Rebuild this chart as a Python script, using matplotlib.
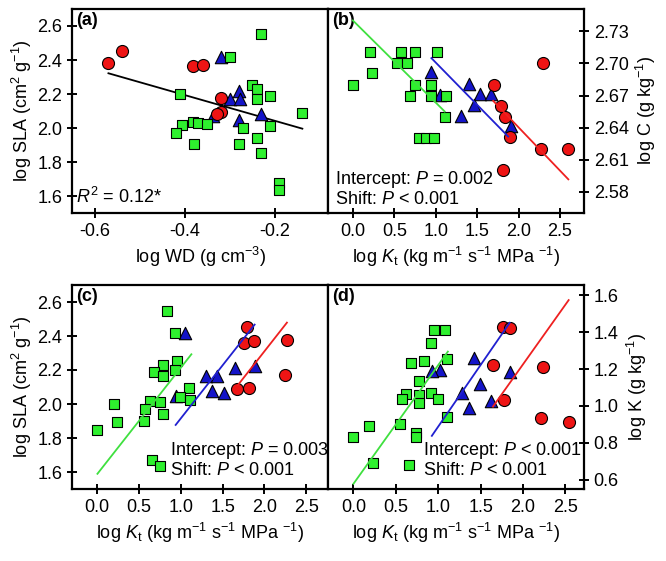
import numpy as np
import matplotlib
matplotlib.use('Agg')
from matplotlib import pyplot as plt
from matplotlib.ticker import FormatStrFormatter

plt.rcParams['font.family'] = ['Liberation Sans', 'DejaVu Sans']
plt.rcParams['mathtext.fontset'] = 'custom'
plt.rcParams['mathtext.rm'] = 'Liberation Sans'
plt.rcParams['mathtext.it'] = 'Liberation Sans:italic'
plt.rcParams['mathtext.bf'] = 'Liberation Sans:bold'

# ---- panel (a): log SLA vs log WD
a_green_x = [-0.231, -0.299, -0.410, -0.252, -0.239, -0.239, -0.211, -0.139, -0.381, -0.370, -0.350,
             -0.407, -0.420, -0.270, -0.211, -0.380, -0.280, -0.239, -0.230, -0.191, -0.191]
a_green_y = [2.555, 2.420, 2.202, 2.251, 2.231, 2.173, 2.188, 2.090, 2.037, 2.031, 2.022,
             2.016, 1.973, 2.002, 2.012, 1.904, 1.904, 1.943, 1.851, 1.675, 1.633]
a_blue_x = [-0.320, -0.279, -0.299, -0.278, -0.337, -0.280, -0.230]
a_blue_y = [2.420, 2.218, 2.169, 2.169, 2.071, 2.047, 2.080]
a_red_x = [-0.570, -0.539, -0.381, -0.359, -0.320, -0.319, -0.328]
a_red_y = [2.384, 2.453, 2.365, 2.371, 2.175, 2.096, 2.084]
a_fit = (-0.756, 1.891, -0.570, -0.139)  # slope, intercept, x from, x to

# ---- panel (b): log C vs log Kt
b_green_x = [0.202, 0.585, 0.754, 1.016, 0.536, 0.653, 0.234, 0.0, 0.746, 0.940, 0.694,
             0.940, 1.129, 1.109, 0.794, 0.887, 0.976]
b_green_y = [2.7106, 2.7106, 2.7106, 2.7106, 2.7003, 2.7003, 2.6909, 2.680, 2.680, 2.680, 2.670,
             2.670, 2.670, 2.6503, 2.630, 2.630, 2.630]
b_blue_x = [0.948, 1.399, 1.532, 1.673, 1.460, 1.310, 1.907, 1.048]
b_blue_y = [2.6916, 2.6809, 2.6716, 2.6716, 2.6613, 2.6509, 2.641, 2.6706]
b_red_x = [1.702, 1.794, 1.835, 1.895, 2.290, 2.270, 2.601, 1.815]
b_red_y = [2.680, 2.6603, 2.6503, 2.6309, 2.7009, 2.620, 2.620, 2.6003]
b_fits = [(-0.0769, 2.7403, 0.0, 1.109),
          (-0.0792, 2.7801, 0.948, 1.875),
          (-0.0810, 2.8022, 1.694, 2.601)]

# ---- panel (c): log SLA vs log Kt
c_green_x = [0.836, 0.935, 0.959, 0.935, 0.788, 0.681, 0.788, 1.099, 0.995, 1.115, 0.629,
             0.748, 0.577, 0.788, 0.199, 0.239, 0.561, 0.004, 0.657, 0.756]
c_green_y = [2.547, 2.418, 2.254, 2.200, 2.229, 2.190, 2.166, 2.092, 2.039, 2.024, 2.020,
             2.010, 1.969, 1.940, 2.000, 1.897, 1.901, 1.848, 1.672, 1.633]
c_blue_x = [1.047, 1.298, 1.437, 1.652, 1.891, 1.377, 1.517, 0.939]
c_blue_y = [2.418, 2.164, 2.164, 2.213, 2.223, 2.077, 2.063, 2.047]
c_red_x = [1.795, 1.756, 1.875, 2.269, 1.672, 1.811, 2.249]
c_red_y = [2.450, 2.356, 2.370, 2.379, 2.088, 2.092, 2.170]
c_fits = [(0.626, 1.587, 0.004, 1.127),
          (0.625, 1.290, 0.939, 1.883),
          (0.627, 1.056, 1.684, 2.269)]

# ---- panel (d): log K vs log Kt
d_green_x = [0.945, 1.075, 0.917, 0.677, 0.827, 1.102, 0.776, 0.622, 0.571, 0.776, 0.776,
             0.917, 0.992, 1.102, 0.551, 0.189, 0.0, 0.740, 0.740, 0.228, 0.650]
d_green_y = [1.411, 1.411, 1.342, 1.231, 1.243, 1.252, 1.135, 1.063, 1.038, 1.059, 1.018,
             1.072, 1.036, 0.942, 0.901, 0.892, 0.829, 0.852, 0.829, 0.690, 0.681]
d_blue_x = [1.417, 1.024, 0.925, 1.488, 1.280, 1.622, 1.366, 1.850]
d_blue_y = [1.258, 1.195, 1.189, 1.117, 1.072, 1.027, 0.991, 1.186]
d_red_x = [1.764, 1.850, 1.642, 1.780, 2.236, 2.217, 2.539]
d_red_y = [1.425, 1.423, 1.222, 1.032, 1.213, 0.933, 0.912]
d_fits = [(0.643, 0.578, 0.0, 1.114),
          (0.667, 0.221, 0.925, 1.843),
          (0.646, -0.067, 1.646, 2.539)]

sla_ticks = [1.6, 1.8, 2.0, 2.2, 2.4, 2.6]
c_ticks = [2.58, 2.61, 2.64, 2.67, 2.70, 2.73]
k_ticks = [0.6, 0.8, 1.0, 1.2, 1.4, 1.6]
kt_ticks = [0.0, 0.5, 1.0, 1.5, 2.0, 2.5]
wd_ticks = [-0.6, -0.4, -0.2]

GREEN = '#2ef02e'
BLUE = '#1414c8'
RED = '#ee1414'
LGREEN = '#3fe03f'
LBLUE = '#2020d0'
LRED = '#ee2020'
FS = 13

kt_label = 'log $K_{\\rm t}$ (kg m$^{-1}$ s$^{-1}$ MPa $^{-1}$)'
sla_label = 'log SLA (cm$^{2}$ g$^{-1}$)'


def scatter_groups(ax, gx, gy, bx, by, rx, ry):
    ax.scatter(bx, by, marker='^', s=80, c=BLUE, edgecolors='black', linewidths=0.8, zorder=3)
    ax.scatter(rx, ry, marker='o', s=75, c=RED, edgecolors='black', linewidths=0.8, zorder=3)
    ax.scatter(gx, gy, marker='s', s=60, c=GREEN, edgecolors='black', linewidths=0.8, zorder=3)


def draw_fits(ax, fits):
    for (m, b, x0, x1), col in zip(fits, [LGREEN, LBLUE, LRED]):
        xs = np.array([x0, x1])
        ax.plot(xs, m * xs + b, color=col, lw=1.3, zorder=4)


def style(ax):
    for sp in ax.spines.values():
        sp.set_linewidth(1.6)
    ax.tick_params(direction='inout', length=7, width=1.4, labelsize=FS)


def notes(ax, x, y1, y2, t1, t2):
    ax.text(x, y1, t1, transform=ax.transAxes, fontsize=FS, va='center')
    ax.text(x, y2, t2, transform=ax.transAxes, fontsize=FS, va='center')


fig = plt.figure(figsize=(6.66, 5.61), dpi=100)
W, H = 666.0, 561.0
ax_a = fig.add_axes([72 / W, 1 - 213 / H, 256 / W, 204 / H])
ax_b = fig.add_axes([328 / W, 1 - 213 / H, 256 / W, 204 / H])
ax_c = fig.add_axes([72 / W, 1 - 489 / H, 256 / W, 204 / H])
ax_d = fig.add_axes([328 / W, 1 - 489 / H, 256 / W, 204 / H])

# (a)
scatter_groups(ax_a, a_green_x, a_green_y, a_blue_x, a_blue_y, a_red_x, a_red_y)
m, b, x0, x1 = a_fit
xs = np.array([x0, x1])
ax_a.plot(xs, m * xs + b, color='black', lw=1.3, zorder=2)
ax_a.set_xlim(-0.651, -0.082)
ax_a.set_ylim(1.5, 2.7)
ax_a.set_xticks(wd_ticks)
ax_a.set_yticks(sla_ticks)
ax_a.xaxis.set_major_formatter(FormatStrFormatter('%.1f'))
ax_a.yaxis.set_major_formatter(FormatStrFormatter('%.1f'))
ax_a.set_xlabel('log WD (g cm$^{-3}$)', fontsize=FS, labelpad=4)
ax_a.set_ylabel(sla_label, fontsize=FS, labelpad=2)
ax_a.text(0.015, 0.985, '(a)', transform=ax_a.transAxes, fontsize=FS, fontweight='bold', va='top')
ax_a.text(0.015, 0.03, '$R^{2}$ = 0.12*', transform=ax_a.transAxes, fontsize=FS, va='bottom')
style(ax_a)

# (b)
scatter_groups(ax_b, b_green_x, b_green_y, b_blue_x, b_blue_y, b_red_x, b_red_y)
draw_fits(ax_b, b_fits)
ax_b.set_xlim(-0.3, 2.79)
ax_b.set_ylim(2.56, 2.751)
ax_b.set_xticks(kt_ticks)
ax_b.set_yticks(c_ticks)
ax_b.xaxis.set_major_formatter(FormatStrFormatter('%.1f'))
ax_b.yaxis.set_major_formatter(FormatStrFormatter('%.2f'))
ax_b.yaxis.tick_right()
ax_b.yaxis.set_label_position('right')
ax_b.set_xlabel(kt_label, fontsize=FS, labelpad=4)
ax_b.set_ylabel('log C (g kg$^{-1}$)', fontsize=FS, labelpad=4)
ax_b.text(0.015, 0.985, '(b)', transform=ax_b.transAxes, fontsize=FS, fontweight='bold', va='top')
notes(ax_b, 0.027, 0.165, 0.068, 'Intercept: $P$ = 0.002', 'Shift: $P$ < 0.001')
style(ax_b)

# (c)
scatter_groups(ax_c, c_green_x, c_green_y, c_blue_x, c_blue_y, c_red_x, c_red_y)
draw_fits(ax_c, c_fits)
ax_c.set_xlim(-0.3, 2.76)
ax_c.set_ylim(1.5, 2.7)
ax_c.set_xticks(kt_ticks)
ax_c.set_yticks(sla_ticks)
ax_c.xaxis.set_major_formatter(FormatStrFormatter('%.1f'))
ax_c.yaxis.set_major_formatter(FormatStrFormatter('%.1f'))
ax_c.set_xlabel(kt_label, fontsize=FS, labelpad=4)
ax_c.set_ylabel(sla_label, fontsize=FS, labelpad=2)
ax_c.text(0.015, 0.985, '(c)', transform=ax_c.transAxes, fontsize=FS, fontweight='bold', va='top')
notes(ax_c, 0.383, 0.19, 0.093, 'Intercept: $P$ = 0.003', 'Shift: $P$ < 0.001')
style(ax_c)

# (d)
scatter_groups(ax_d, d_green_x, d_green_y, d_blue_x, d_blue_y, d_red_x, d_red_y)
draw_fits(ax_d, d_fits)
ax_d.set_xlim(-0.3, 2.72)
ax_d.set_ylim(0.55, 1.655)
ax_d.set_xticks(kt_ticks)
ax_d.set_yticks(k_ticks)
ax_d.xaxis.set_major_formatter(FormatStrFormatter('%.1f'))
ax_d.yaxis.set_major_formatter(FormatStrFormatter('%.1f'))
ax_d.yaxis.tick_right()
ax_d.yaxis.set_label_position('right')
ax_d.set_xlabel(kt_label, fontsize=FS, labelpad=4)
ax_d.set_ylabel('log K (g kg$^{-1}$)', fontsize=FS, labelpad=4)
ax_d.text(0.015, 0.985, '(d)', transform=ax_d.transAxes, fontsize=FS, fontweight='bold', va='top')
notes(ax_d, 0.372, 0.187, 0.09, 'Intercept: $P$ < 0.001', 'Shift: $P$ < 0.001')
style(ax_d)

fig.savefig('out.png', dpi=100)
